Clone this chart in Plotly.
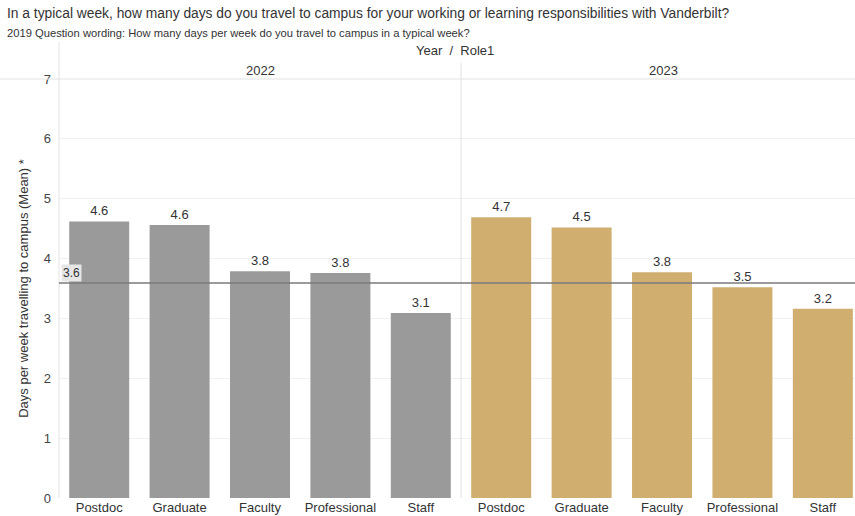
import plotly.graph_objects as go

roles = ["Postdoc", "Graduate", "Faculty", "Professional", "Staff"]
years = ["2022", "2023"]
values_2022 = [4.62, 4.56, 3.79, 3.76, 3.09]
values_2023 = [4.69, 4.52, 3.77, 3.52, 3.16]
overall_mean = 3.59
y_ticks = [0, 1, 2, 3, 4, 5, 6, 7]
colors = {"2022": "#9a9a9a", "2023": "#CFAE70"}

title = "In a typical week, how many days do you travel to campus for your working or learning responsibilities with Vanderbilt?"
subtitle = "2019 Question wording: How many days per week do you travel to campus in a typical week?"
y_title = "Days per week travelling to campus (Mean) *"

FONT = "Liberation Sans, Arial, sans-serif"
W, H = 855, 516
L, R, T, B = 59, 0, 79, 18
pw = W - L - R
ph = H - T - B
split = 402 / pw

fig = go.Figure()
for yr, vals, xa in [("2022", values_2022, "x"), ("2023", values_2023, "x2")]:
    fig.add_trace(go.Bar(
        x=roles, y=vals, xaxis=xa, yaxis="y",
        marker=dict(color=colors[yr], line=dict(width=0)),
        text=vals, texttemplate="%{y:.1f}", textposition="outside",
        textfont=dict(family=FONT, size=13, color="#333333"),
        cliponaxis=False, showlegend=False, width=0.746,
    ))

axis_common = dict(
    type="category", showgrid=False, zeroline=False, showline=False,
    tickfont=dict(family=FONT, size=13, color="#333333"), ticks="",
)
fig.update_layout(
    width=W, height=H,
    margin=dict(l=L, r=R, t=T, b=B, pad=0),
    paper_bgcolor="white", plot_bgcolor="white",
    bargap=0.254,
    xaxis=dict(domain=[0, split], range=[-0.5, 4.5], **axis_common),
    xaxis2=dict(domain=[split, 1], range=[-0.5, 4.4], anchor="y", **axis_common),
    yaxis=dict(
        range=[0, 7], tickvals=y_ticks, showgrid=True, gridcolor="#f1f1f1",
        zeroline=False, showline=False, ticks="",
        tickfont=dict(family=FONT, size=13, color="#444444"),
        ticklabelstandoff=7,
        title=dict(text=y_title, font=dict(family=FONT, size=13, color="#333333"), standoff=12),
    ),
)

def py(p):
    return (H - B - p) / ph

def px(p):
    return (p - L) / pw

shapes = [
    dict(type="line", xref="paper", yref="paper", x0=px(0), x1=px(W), y0=1, y1=1,
         line=dict(color="#e2e2e2", width=1)),
    dict(type="line", xref="paper", yref="paper", x0=0, x1=0, y0=0, y1=py(42),
         line=dict(color="#e2e2e2", width=1)),
    dict(type="line", xref="paper", yref="paper", x0=split, x1=split, y0=0, y1=py(63),
         line=dict(color="#e2e2e2", width=1)),
    dict(type="line", xref="paper", yref="y", x0=0, x1=1, y0=overall_mean, y1=overall_mean,
         line=dict(color="#7a7a7a", width=1.5), layer="above"),
]
fig.update_layout(shapes=shapes)

ann = [
    dict(text=title, x=px(5), y=py(13), xanchor="left", yanchor="middle",
         font=dict(family=FONT, size=13.8, color="#333333")),
    dict(text=subtitle, x=px(5), y=py(33), xanchor="left", yanchor="middle",
         font=dict(family=FONT, size=11.2, color="#333333")),
    dict(text="Year  /  Role1", x=px(455), y=py(51), xanchor="center", yanchor="middle",
         font=dict(family=FONT, size=13, color="#333333")),
    dict(text=years[0], x=px(260), y=py(70), xanchor="center", yanchor="middle",
         font=dict(family=FONT, size=13, color="#333333")),
    dict(text=years[1], x=px(663), y=py(70), xanchor="center", yanchor="middle",
         font=dict(family=FONT, size=13, color="#333333")),
    dict(text=f"{overall_mean:.1f}", x=px(61), yref="y", y=overall_mean, xanchor="left",
         yanchor="bottom", yshift=1, bgcolor="#e6e6e6", borderpad=1,
         font=dict(family=FONT, size=12, color="#333333")),
]
for a in ann:
    a.setdefault("xref", "paper")
    a.setdefault("yref", "paper")
    a["showarrow"] = False
fig.update_layout(annotations=ann)

fig.write_html("out.html")
